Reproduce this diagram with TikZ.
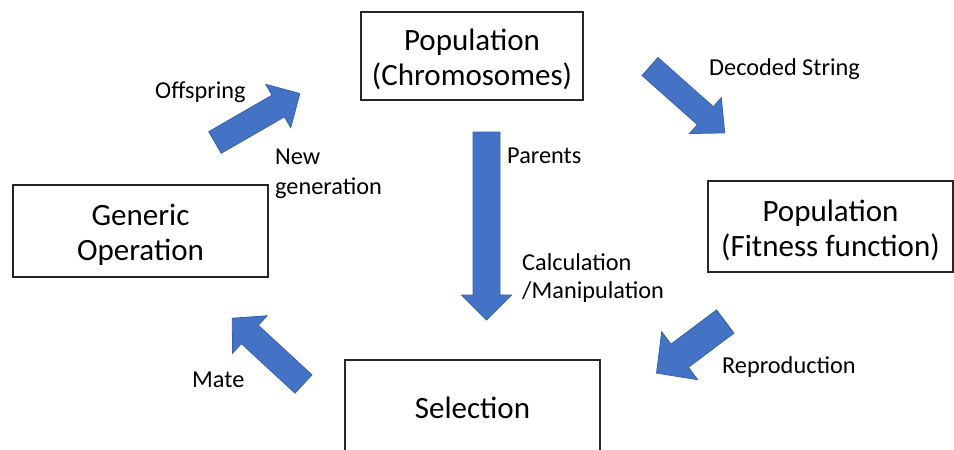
\documentclass[tikz,border=0pt]{standalone}
\usepackage{fontspec}
\setmainfont{Carlito}
\newcommand\toproom{\rule{0pt}{29pt}}
\begin{document}
\begin{tikzpicture}[x=1pt,y=-1pt,
  stage/.style={draw=black!85, line width=1.3pt, align=center, inner sep=0pt,
    font=\fontsize{31}{35}\selectfont},
  note/.style={inner sep=0pt, align=left, anchor=base west,
    font=\fontsize{24.3}{28.5}\selectfont},
  flow/.style={fill=arrowblue, draw=arrowedge, line width=0.8pt, line join=miter}]
\definecolor{arrowblue}{HTML}{4472C4}
\definecolor{arrowedge}{HTML}{3A62AC}
% block arrow: tail point, direction (deg), length, shaft width, head width, head length
\newcommand\gaflow[6]{%
  \path[flow, shift={(#1)}, rotate=#2]
    (0,{-#4/2}) -- ({#3-#6},{-#4/2}) -- ({#3-#6},{-#5/2}) -- (#3,0)
    -- ({#3-#6},{#5/2}) -- ({#3-#6},{#4/2}) -- (0,{#4/2}) -- cycle;}
\useasboundingbox (0,0) rectangle (954,450);

% stages of the genetic algorithm
\node[stage, minimum width=222pt, minimum height=88pt] (chrom) at (472,56)
  {\toproom Population\\(Chromosomes)};
\node[stage, minimum width=245pt, minimum height=91pt] (fitness) at (830.5,226.5)
  {\toproom Population\\(Fitness function)};
\node[stage, minimum width=255pt, minimum height=92pt] (generic) at (140.5,231)
  {\toproom Generic\\Operation};
\node[stage, minimum width=255pt, minimum height=96pt] (select) at (472.5,408)
  {Selection};

% block arrows between the stages
\gaflow{215,142.5}{30}{98}{25}{50}{25}
\gaflow{650,66.5}{-41.6}{100}{24}{48}{26}
\gaflow{486.5,132}{-90}{188}{27}{50}{25}
\gaflow{725.3,321.5}{-143.1}{86}{29}{60}{29}
\gaflow{303.5,384}{137.3}{97}{25}{51}{24}

% labels (multi-line labels are anchored at the baseline of their last line)
\node[note] (offspring) at (155,98) {Offspring};
\node[note, font=\fontsize{24.3}{30}\selectfont] (newgen) at (275,194) {New\\generation};
\node[note] (decoded) at (709,75) {Decoded String};
\node[note] (parents) at (507,163) {Parents};
\node[note] (calc) at (522,298.5) {Calculation\\/Manipulation};
\node[note] (repro) at (722,373) {Reproduction};
\node[note] (mate) at (192,387) {Mate};
\end{tikzpicture}
\end{document}
